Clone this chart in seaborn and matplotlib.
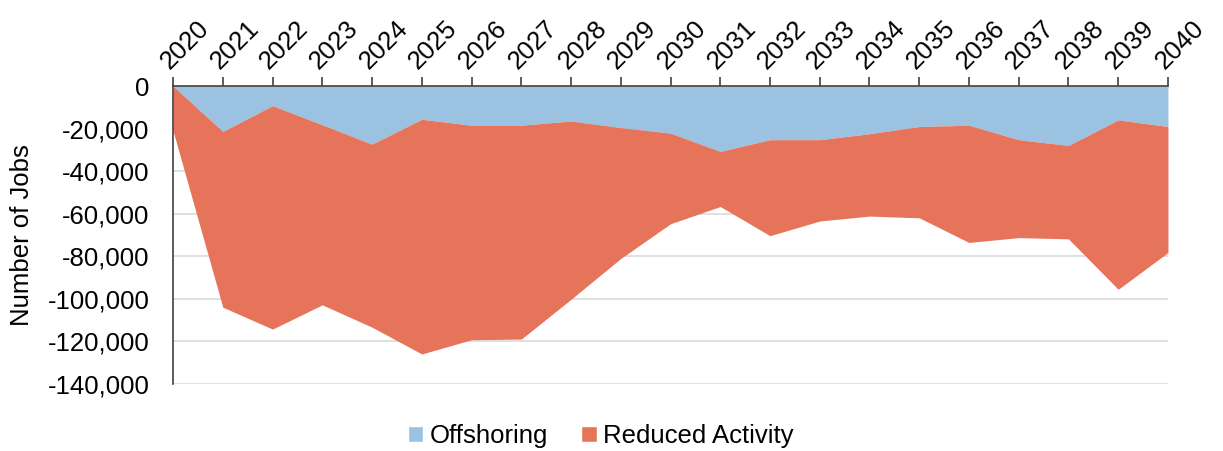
import matplotlib
matplotlib.use("Agg")
import matplotlib.pyplot as plt
import seaborn as sns
import numpy as np
from matplotlib.patches import Patch
from matplotlib.ticker import FuncFormatter

years = list(range(2020, 2041))
# (jobs, negative = losses)
offshoring = [0, -21300, -9200, -18200, -27300, -15600, -18400, -18400, -16400, -19500,
              -22100, -30700, -25200, -25200, -22400, -19000, -18400, -25200, -27900,
              -15900, -19000]
reduced_activity = [-21000, -82600, -105000, -84600, -86000, -110300, -100800, -100500,
                    -83800, -61500, -42600, -25900, -45100, -38200, -38700, -42900,
                    -55100, -46000, -43900, -79600, -59200]
series_names = ["Offshoring", "Reduced Activity"]
colors = ["#9BC2E0", "#E5745A"]

sns.set_style("white")
plt.rcParams['font.family'] = ['Liberation Sans', 'DejaVu Sans']
plt.rcParams['text.color'] = 'black'
plt.rcParams['axes.labelcolor'] = 'black'
plt.rcParams['xtick.labelcolor'] = 'black'
plt.rcParams['ytick.labelcolor'] = 'black'
fs = 18.5

fig = plt.figure(figsize=(12.23, 4.51), dpi=100)
ax = fig.add_axes([0.1415, 0.1486, 0.8135, 0.6605])

ax.stackplot(years, offshoring, reduced_activity, colors=colors, linewidth=0)

ax.set_xlim(2020, 2040)
ax.set_ylim(-140000, 0)
ax.set_yticks(np.arange(-140000, 1, 20000))
ax.yaxis.set_major_formatter(FuncFormatter(lambda v, p: f"{int(v):,}"))
ax.grid(axis="y", color="#D9D9D9", linewidth=1.2)
ax.set_axisbelow(True)

ax.xaxis.tick_top()
ax.set_xticks(years)
ax.set_xticklabels([str(y) for y in years], rotation=45, ha="left", va="bottom",
                   rotation_mode="anchor")
ax.tick_params(axis="x", which="major", direction="out", length=6.3, width=1.2,
               color="#404040", labelsize=fs, pad=3, labelcolor="black")
ax.tick_params(axis="y", length=0, labelsize=fs, pad=17, labelcolor="black")

for side in ["bottom", "right"]:
    ax.spines[side].set_visible(False)
for side in ["top", "left"]:
    ax.spines[side].set_color("#404040")
    ax.spines[side].set_linewidth(1.2)

ax.set_ylabel("Number of Jobs", fontsize=fs, labelpad=10, color="black")

handles = [Patch(facecolor=c, label=n) for c, n in zip(colors, series_names)]
fig.legend(handles=handles, loc="center", bbox_to_anchor=(0.491, 0.033), ncol=2,
           frameon=False, fontsize=fs, handlelength=0.6, handleheight=0.6,
           handletextpad=0.25, columnspacing=1.3, labelcolor="black")

fig.savefig("out.png", dpi=100)
